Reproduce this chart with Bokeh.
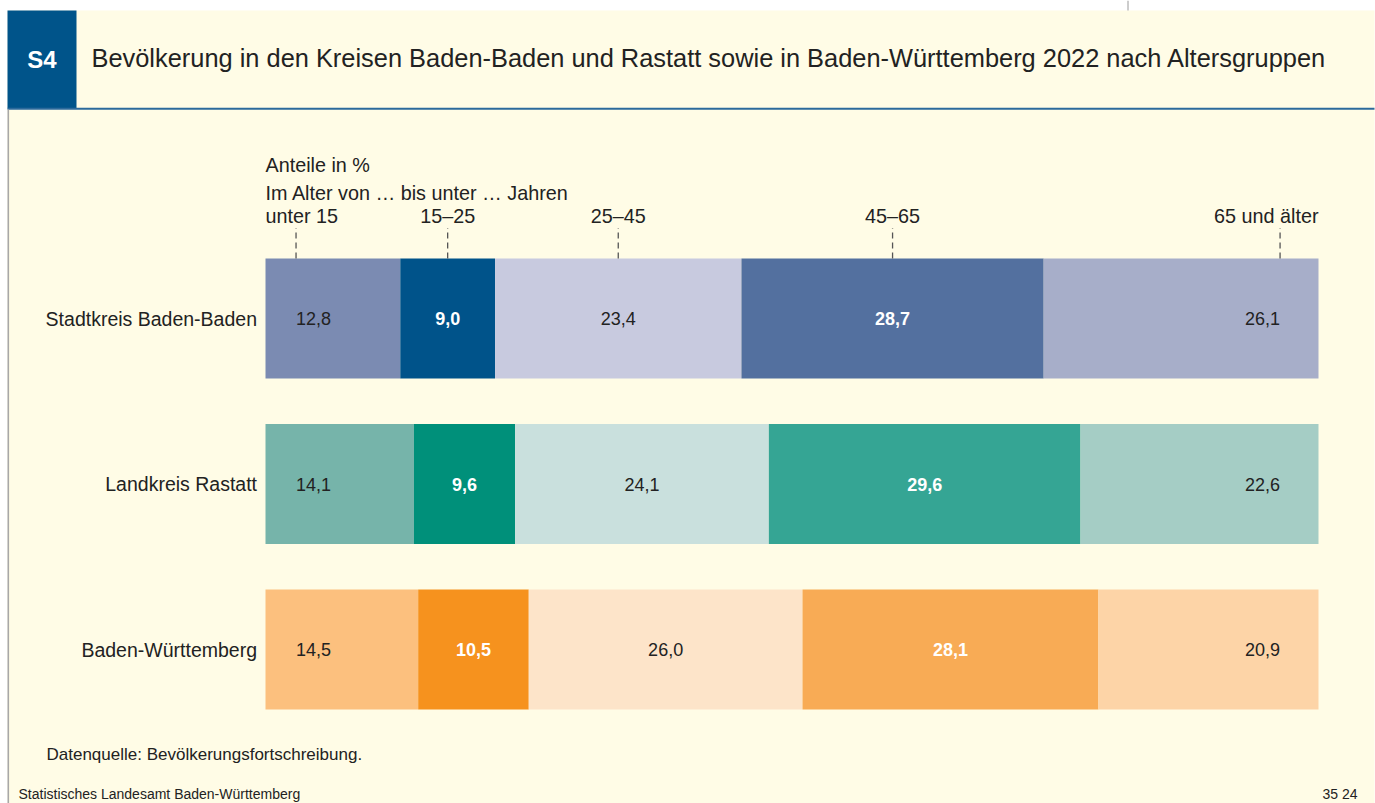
from bokeh.plotting import figure
from bokeh.models import Range1d, ColumnDataSource
from bokeh.core.properties import value
from bokeh.embed import file_html
from bokeh.resources import INLINE

# ---------------- data ----------------
regions = ["Stadtkreis Baden-Baden", "Landkreis Rastatt", "Baden-Württemberg"]
age_groups = ["unter 15", "15–25", "25–45", "45–65", "65 und älter"]
stadtkreis_baden_baden = [12.8, 9.0, 23.4, 28.7, 26.1]
landkreis_rastatt = [14.1, 9.6, 24.1, 29.6, 22.6]
baden_wuerttemberg = [14.5, 10.5, 26.0, 28.1, 20.9]
series = [stadtkreis_baden_baden, landkreis_rastatt, baden_wuerttemberg]

colors_stadtkreis = ["#7B8BB2", "#00538A", "#C8CADF", "#53709F", "#A7AEC9"]
colors_landkreis = ["#76B4AA", "#00907A", "#C9E0DD", "#35A594", "#A5CDC5"]
colors_bw = ["#FCC07E", "#F6921E", "#FDE4C9", "#F8AB55", "#FDD4A7"]
row_colors = [colors_stadtkreis, colors_landkreis, colors_bw]
bold_segments = [1, 3]

title_text = ("Bevölkerung in den Kreisen Baden-Baden und Rastatt sowie in "
              "Baden-Württemberg 2022 nach Altersgruppen")
badge_text = "S4"
unit_text = "Anteile in %"
age_text = "Im Alter von … bis unter … Jahren"
source_text = "Datenquelle: Bevölkerungsfortschreibung."
publisher_text = "Statistisches Landesamt Baden-Württemberg"
code_text = "35 24"

# ---------------- layout ----------------
FONT = value("Liberation Sans")
DARK = "#222222"
BG = "#FFFCE6"
W, H = 1375, 803
X0_PX, X100_PX = 265.0, 1318.0          # canvas px of 0 % and 100 %
ROW0_PX, ROW_STEP = 318.0, 165.5         # canvas px of first row centre, row spacing
BAR_PX = 120.0
SX = (X100_PX - X0_PX) / 100.0

x_range = Range1d(-X0_PX / SX, (W - X0_PX) / SX)
y_range = Range1d((H - ROW0_PX) / ROW_STEP, -ROW0_PX / ROW_STEP)


def px_x(X):  # canvas pixel -> data x
    return (X - X0_PX) / SX


def px_y(Y):  # canvas pixel -> data y
    return (Y - ROW0_PX) / ROW_STEP


def dpx(n):  # vertical pixel distance -> data units
    return n / ROW_STEP


p = figure(width=W, height=H, x_range=x_range, y_range=y_range,
           output_backend="svg", toolbar_location=None,
           x_axis_type=None, y_axis_type=None, min_border=0,
           background_fill_color="white", border_fill_color="white",
           outline_line_color=None)
p.grid.visible = False

# background panel and header
p.quad(left=[px_x(7)], right=[px_x(1374)], top=[px_y(10)], bottom=[px_y(804)],
       fill_color=BG, line_color=None)
p.quad(left=[px_x(7)], right=[px_x(76)], top=[px_y(10)], bottom=[px_y(108)],
       fill_color="#00548A", line_color=None)
p.segment(x0=[px_x(7)], x1=[px_x(1374)], y0=[px_y(108.3)], y1=[px_y(108.3)],
          line_color="#2B6A9C", line_width=2)
p.segment(x0=[px_x(7.8)], x1=[px_x(7.8)], y0=[px_y(109)], y1=[px_y(804)],
          line_color="#A8A8A8", line_width=1.6)
p.segment(x0=[px_x(1127.5)], x1=[px_x(1127.5)], y0=[px_y(0)], y1=[px_y(10)],
          line_color="#9A9A9A", line_width=1)

# texts are positioned by the visual centre of their capitals
p.text(x=[px_x(41.5)], y=[px_y(58.5)], text=[badge_text], text_font=FONT,
       text_font_size="24px", text_font_style="bold", text_color="white",
       text_align="center", text_baseline="alphabetic")
p.text(x=[px_x(91)], y=[px_y(57)], text=[title_text], text_font=FONT,
       text_font_size="25.4px", text_color=DARK, text_align="left",
       text_baseline="alphabetic")

# ---------------- bars ----------------
bar = dict(y=[], left=[], right=[], color=[])
lab = {("left", False): [], ("center", False): [], ("right", False): [],
       ("left", True): [], ("center", True): [], ("right", True): []}
FIRST_INSET, LAST_INSET = 2.9, 3.65
for i, vals in enumerate(series):
    cum = 0.0
    n = len(vals)
    for j, v in enumerate(vals):
        left, right = cum, cum + v
        cum = right
        bar["y"].append(i)
        bar["left"].append(left)
        bar["right"].append(right)
        bar["color"].append(row_colors[i][j])
        if j == 0:
            key, xx = "left", left + FIRST_INSET
        elif j == n - 1:
            key, xx = "right", right - LAST_INSET
        else:
            key, xx = "center", (left + right) / 2
        lab[(key, j in bold_segments)].append(
            (xx, i, f"{v:.1f}".replace(".", ",")))

p.hbar(source=ColumnDataSource(bar), y="y", left="left", right="right",
       height=BAR_PX / ROW_STEP, fill_color="color", line_color=None)

for (align, bold), items in lab.items():
    if not items:
        continue
    p.text(x=[a[0] for a in items], y=[a[1] for a in items],
           text=[a[2] for a in items], text_font=FONT, text_font_size="18px",
           text_font_style="bold" if bold else "normal",
           text_color="white" if bold else DARK,
           text_align=align, text_baseline="alphabetic")

# row labels
p.text(x=[px_x(256.5)] * len(regions),
       y=list(range(len(regions))), text=regions,
       text_font=FONT, text_font_size="19.5px", text_color=DARK,
       text_align="right", text_baseline="alphabetic")

# ---------------- age-group scale above the bars ----------------
first = stadtkreis_baden_baden
cums = [sum(first[:k]) for k in range(len(first) + 1)]
tick_x = ([cums[0] + FIRST_INSET]
          + [(cums[k] + cums[k + 1]) / 2 for k in range(1, len(first) - 1)]
          + [cums[-1] - LAST_INSET])
bar_top = -BAR_PX / 2 / ROW_STEP
p.segment(x0=tick_x, x1=tick_x, y0=[bar_top] * len(tick_x),
          y1=[bar_top - dpx(30.5)] * len(tick_x),
          line_color="#555555", line_width=1.3, line_dash="6 4")

label_y = bar_top - dpx(42.7)
TL = "19.8px"
p.text(x=[cums[0]], y=[label_y], text=[age_groups[0]], text_font=FONT,
       text_font_size=TL, text_color=DARK, text_align="left",
       text_baseline="alphabetic")
p.text(x=tick_x[1:-1], y=[label_y] * (len(tick_x) - 2), text=age_groups[1:-1],
       text_font=FONT, text_font_size=TL, text_color=DARK,
       text_align="center", text_baseline="alphabetic")
p.text(x=[cums[-1]], y=[label_y], text=[age_groups[-1]], text_font=FONT,
       text_font_size=TL, text_color=DARK, text_align="right",
       text_baseline="alphabetic")
p.text(x=[cums[0], cums[0]], y=[bar_top - dpx(93.5), bar_top - dpx(65.5)],
       text=[unit_text, age_text], text_font=FONT, text_font_size=TL,
       text_color=DARK, text_align="left", text_baseline="alphabetic")

# ---------------- footer ----------------
p.text(x=[px_x(46)], y=[px_y(753.5)], text=[source_text], text_font=FONT,
       text_font_size="17px", text_color=DARK, text_align="left",
       text_baseline="alphabetic")
p.text(x=[px_x(18)], y=[px_y(793)], text=[publisher_text], text_font=FONT,
       text_font_size="14px", text_color=DARK, text_align="left",
       text_baseline="alphabetic")
p.text(x=[px_x(1357)], y=[px_y(793)], text=[code_text], text_font=FONT,
       text_font_size="14px", text_color=DARK, text_align="right",
       text_baseline="alphabetic")

open("out.html", "w").write(file_html(p, INLINE))
